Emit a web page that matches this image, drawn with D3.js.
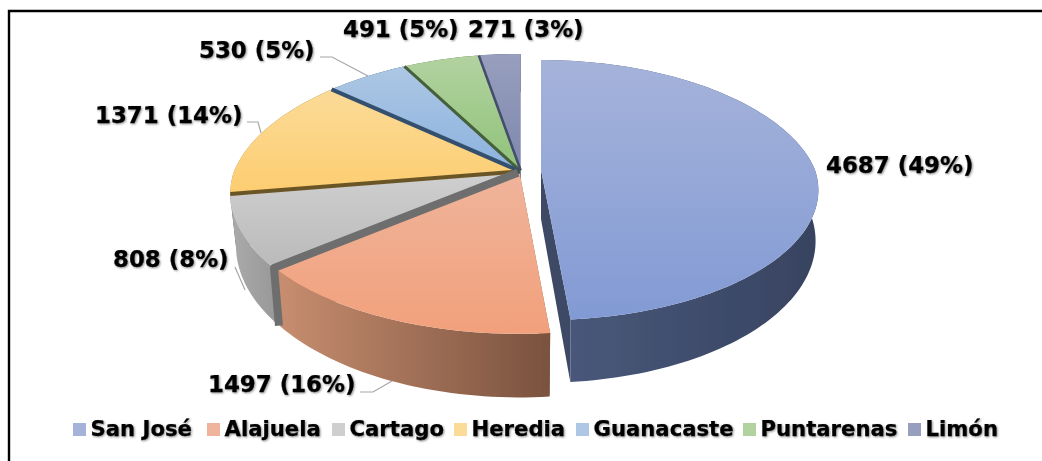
<!DOCTYPE html>
<html><head><meta charset="utf-8">
<script src="https://cdn.jsdelivr.net/npm/d3@7"></script>
<style>
html,body{margin:0;padding:0;background:#fff;overflow:hidden}
text{font-family:"DejaVu Sans",sans-serif;font-weight:700;fill:#000;stroke:#000;stroke-width:.25;filter:drop-shadow(1px 1px 1.2px rgba(0,0,0,.45))}
</style></head><body>
<svg id="chart" width="1042" height="461"></svg>
<script>
const categories = ["San José","Alajuela","Cartago","Heredia","Guanacaste","Puntarenas","Limón"];
const values = [4687,1497,808,1371,530,491,271];
const topColors = [["#a5b3da","#829ad4"],["#efb49b","#f2a07b"],["#cfcfcf","#bababa"],["#fbdb98","#fdcd70"],["#adc7e4","#8bb2df"],["#b2d2a0","#90c27a"],["#989fbe","#7d88ad"]];
const wallColors = [["#4a5a7d","#384360"],["#c88e70","#7a523e"],["#ababab","#979797"],["#a98a4e","#7a6230"],["#3f5f80","#2f4a68"],["#5c7a48","#41592f"],["#4f5878","#3b4360"]];
const cutColors = ["#3d4965","#8a5a42","#6e6e6e","#6b5526","#34506e","#45613a","#454e6c"];
const stripWidths = [0,0,8,4,4,3,2.5];
const labelLayout = [[826,173],[208,392],[113,267],[95,123],[199,58],[343,37],[468,37]];
const legendLayout = [73,207,332,454,576,743,908];
const leaders = [null,[[360,392],[373,392],[392,381]],[[235,267],[245,290]],[[247,122],[258,122],[261,133]],[[320,57],[332,57],[368,76]],null,null];

const K=0.155,KX_BACK=0.19,KX_FRONT=0.155,DEPTH=49,SX=0.98,SY=1.09,EXPLODE=0.012;
const svg=d3.select("#chart");
const defs=svg.append("defs");
defs.append("filter").attr("id","soft").append("feGaussianBlur").attr("stdDeviation",0.45);

svg.append("path").attr("d",d3.line()([[9,461],[9,11],[1042,11]])).attr("fill","none").attr("stroke","#000").attr("stroke-width",2.4);

const total=d3.sum(values);
const arcs=d3.pie().sort(null).startAngle(0).endAngle(2*Math.PI)(values);

const mainPlane={x0:521,y0:172,rx:284,ry:135,sx:SX};
const sjPlane={x0:541,y0:170,rx:274,ry:127,sx:0.99};

function project(pl,a,r,mid,e,bottom){
  const u=r*Math.sin(a)+e*Math.sin(mid), v=-r*Math.cos(a)-e*Math.cos(mid);
  const kx=v<0?KX_BACK:KX_FRONT;
  return [pl.x0+(bottom?pl.sx:1)*pl.rx*u/(1-kx*v), pl.y0+(bottom?DEPTH:0)+(bottom?SY:1)*pl.ry*v/(1-K*v)];
}
const line=d3.line();
const g=svg.append("g").attr("filter","url(#soft)");
const order=[0,6,5,4,3,2,1];
const strips=[];
order.forEach(i=>{
  const d=arcs[i], pl=i===0?sjPlane:mainPlane, mid=(d.startAngle+d.endAngle)/2, e=i===0?0:EXPLODE;
  const n=Math.max(8,Math.ceil((d.endAngle-d.startAngle)*40));
  const as=d3.range(n+1).map(k=>d.startAngle+(d.endAngle-d.startAngle)*k/n);
  const top=as.map(a=>project(pl,a,1,mid,e,false));
  const bot=as.map(a=>project(pl,a,1,mid,e,true));
  const apexT=project(pl,0,0,mid,e,false), apexB=project(pl,0,0,mid,e,true);

  const wg=defs.append("linearGradient").attr("id","wall"+i).attr("x1",0).attr("x2",1).attr("y1",0).attr("y2",0);
  wg.append("stop").attr("offset",0).attr("stop-color",wallColors[i][0]);
  wg.append("stop").attr("offset",1).attr("stop-color",wallColors[i][1]);
  const tg=defs.append("linearGradient").attr("id","top"+i).attr("x1",0).attr("x2",0).attr("y1",0).attr("y2",1);
  tg.append("stop").attr("offset",0).attr("stop-color",topColors[i][0]);
  tg.append("stop").attr("offset",1).attr("stop-color",topColors[i][1]);

  [[top[0],bot[0]],[top[n],bot[n]]].forEach(([t,b])=>{
    g.append("path").attr("d",line([apexT,t,b,apexB])+"Z").attr("fill",cutColors[i]);
  });
  g.append("path").attr("d",line(top.concat(bot.slice().reverse()))+"Z").attr("fill",`url(#wall${i})`);
  g.append("path").attr("d",line([apexT].concat(top))+"Z").attr("fill",`url(#top${i})`);
  if(stripWidths[i]>0){
    const pts=i===2?[apexT,top[0],bot[0]]:[apexT,top[0]];
    strips.push({pts,c:cutColors[i],w:stripWidths[i]});
  }
});
strips.forEach(s=>g.append("path").attr("d",line(s.pts)).attr("fill","none").attr("stroke",s.c).attr("stroke-width",s.w).attr("stroke-linejoin","round"));

leaders.forEach(l=>{ if(l) svg.append("path").attr("d",line(l)).attr("fill","none").attr("stroke","#a6a6a6").attr("stroke-width",1.2); });

values.forEach((v,i)=>{
  svg.append("text").attr("x",labelLayout[i][0]).attr("y",labelLayout[i][1]).attr("font-size",22.9)
    .text(`${v} (${Math.round(v/total*100)}%)`);
});

categories.forEach((c,i)=>{
  svg.append("rect").attr("x",legendLayout[i]).attr("y",423).attr("width",13).attr("height",13).attr("fill",topColors[i][0]);
  svg.append("text").attr("x",legendLayout[i]+17.5).attr("y",436).attr("font-size",21.2).text(c);
});
</script></body></html>
